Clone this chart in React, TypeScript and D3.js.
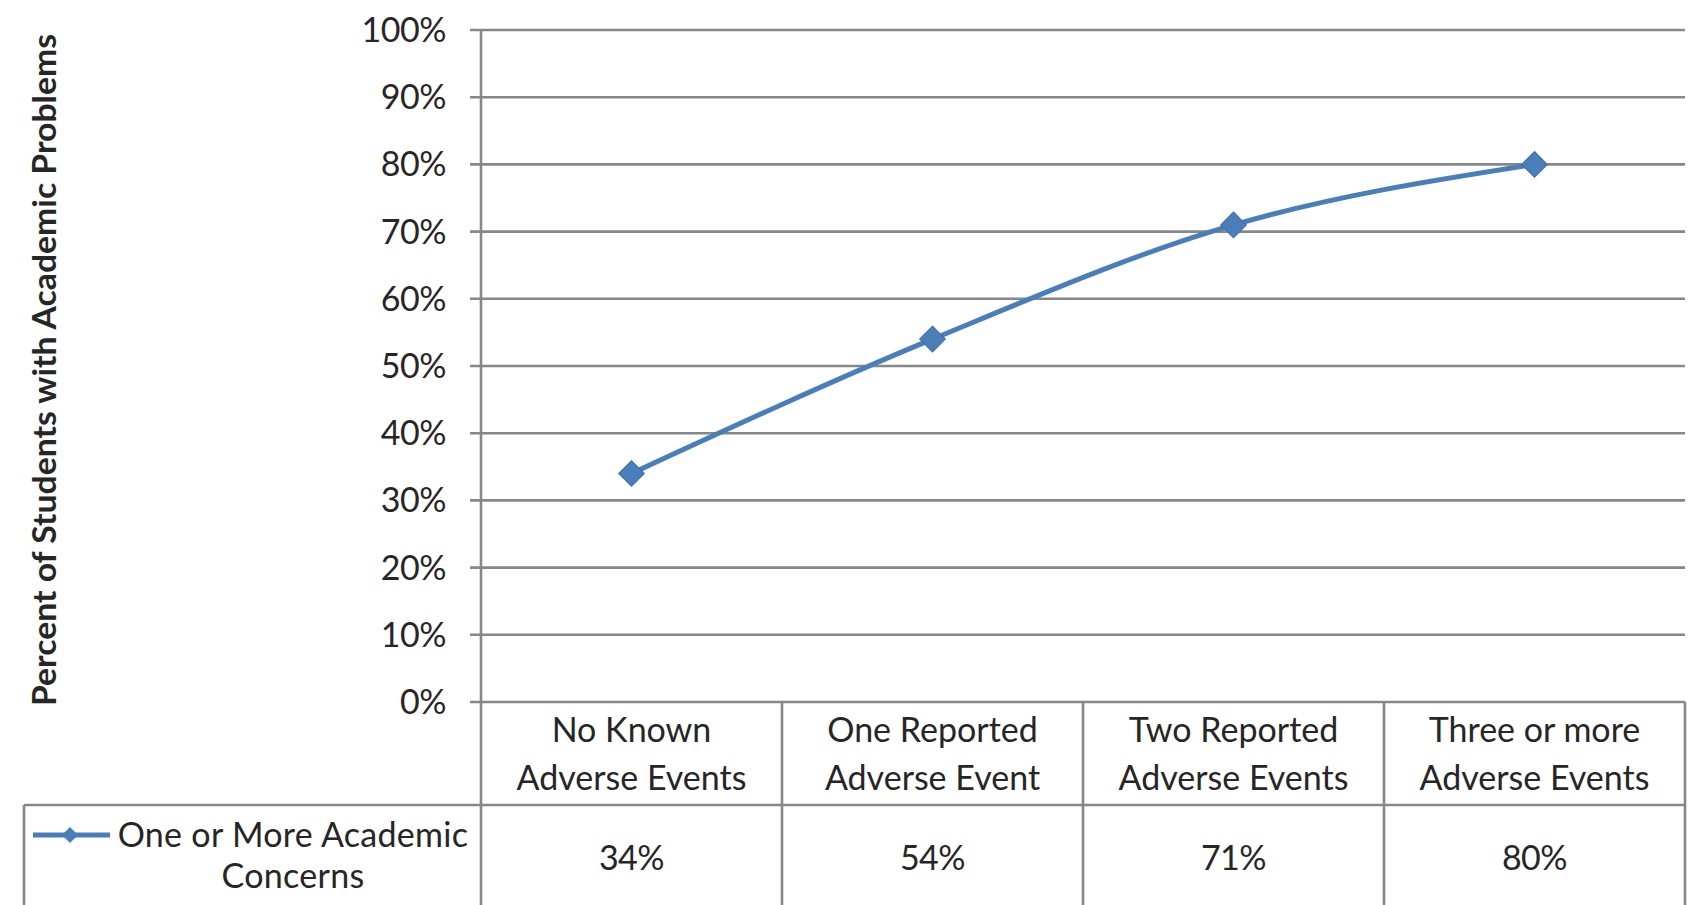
import React, { useEffect, useRef } from 'react';
import * as d3 from 'd3';

// chart data
const categories = ['No Known Adverse Events', 'One Reported Adverse Event', 'Two Reported Adverse Events', 'Three or more Adverse Events'];
const categoryLines = [
  ['No Known', 'Adverse Events'],
  ['One Reported', 'Adverse Event'],
  ['Two Reported', 'Adverse Events'],
  ['Three or more', 'Adverse Events'],
];
const values = [0.34, 0.54, 0.71, 0.80];
const seriesLines = ['One or More Academic', 'Concerns'];
const yTicks = [0, 0.1, 0.2, 0.3, 0.4, 0.5, 0.6, 0.7, 0.8, 0.9, 1.0];
const yTitle = 'Percent of Students with Academic Problems';

function App() {
  const svgRef = useRef<SVGSVGElement>(null);

  useEffect(() => {
    const svg = d3.select(svgRef.current);
    const width = 1692;
    const height = 905;
    const left = 481;
    const right = 1685;
    const top = 30;
    const bottom = 702;
    const rowY = 805;
    const legendLeft = 24;
    const font = 'Lato, "Open Sans", sans-serif';
    const grid = '#878787';
    const blue = '#4A7EBB';
    const textColor = '#262626';
    const fs = 34;

    svg.selectAll('*').remove();
    svg.append('rect').attr('width', width).attr('height', height).attr('fill', '#fff');

    const x = d3.scaleBand().domain(categories).range([left, right]);
    const y = d3.scaleLinear().domain([0, 1]).range([bottom, top]);
    const fmt = d3.format('.0%');

    // gridlines + ticks
    svg.append('g')
      .selectAll('line')
      .data(yTicks)
      .enter()
      .append('line')
      .attr('x1', left - 11)
      .attr('x2', right)
      .attr('y1', d => y(d))
      .attr('y2', d => y(d))
      .attr('stroke', grid)
      .attr('stroke-width', 2.6);

    svg.append('g')
      .selectAll('text')
      .data(yTicks)
      .enter()
      .append('text')
      .attr('x', 446)
      .attr('y', d => y(d))
      .attr('dy', '0.35em')
      .attr('text-anchor', 'end')
      .attr('font-family', font)
      .attr('font-size', fs)
      .attr('letter-spacing', -0.5)
      .attr('fill', textColor)
      .text(d => fmt(d));

    // axis line and table borders
    const tableLines = [
      [left, top, left, height],
      [legendLeft, rowY, right, rowY],
      [legendLeft, rowY, legendLeft, height],
      [right, bottom, right, height],
    ];
    x.domain().slice(1).forEach(c => tableLines.push([x(c)!, bottom, x(c)!, height]));
    svg.append('g')
      .selectAll('line')
      .data(tableLines)
      .enter()
      .append('line')
      .attr('x1', d => d[0])
      .attr('y1', d => d[1])
      .attr('x2', d => d[2])
      .attr('y2', d => d[3])
      .attr('stroke', grid)
      .attr('stroke-width', 2.6);

    // category labels
    const cat = svg.append('g')
      .selectAll('text')
      .data(categories)
      .enter()
      .append('text')
      .attr('x', d => x(d)! + x.bandwidth() / 2)
      .attr('text-anchor', 'middle')
      .attr('font-family', font)
      .attr('font-size', fs)
      .attr('fill', textColor);
    cat.each(function (d, i) {
      const t = d3.select(this);
      categoryLines[i].forEach((line, j) => {
        t.append('tspan')
          .attr('x', x(d)! + x.bandwidth() / 2)
          .attr('y', 742 + j * 48)
          .text(line);
      });
    });

    // data table values
    svg.append('g')
      .selectAll('text')
      .data(values)
      .enter()
      .append('text')
      .attr('x', (d, i) => x(categories[i])! + x.bandwidth() / 2)
      .attr('y', 870)
      .attr('text-anchor', 'middle')
      .attr('font-family', font)
      .attr('font-size', fs)
      .attr('letter-spacing', -0.5)
      .attr('fill', textColor)
      .text(d => fmt(d));

    // line
    const line = d3.line<number>()
      .x((d, i) => x(categories[i])! + x.bandwidth() / 2)
      .y(d => y(d))
      .curve(d3.curveMonotoneX);

    svg.append('path')
      .datum(values)
      .attr('d', line)
      .attr('fill', 'none')
      .attr('stroke', blue)
      .attr('stroke-width', 5)
      .attr('stroke-linejoin', 'round');

    const diamond = d3.symbol().type(d3.symbolSquare).size(330);
    svg.append('g')
      .selectAll('path')
      .data(values)
      .enter()
      .append('path')
      .attr('d', diamond)
      .attr('transform', (d, i) => `translate(${x(categories[i])! + x.bandwidth() / 2},${y(d)}) rotate(45)`)
      .attr('fill', blue)
      .attr('stroke', '#3F6FA8')
      .attr('stroke-width', 1);

    // legend key in the table
    svg.append('line')
      .attr('x1', 33).attr('x2', 110)
      .attr('y1', 835).attr('y2', 835)
      .attr('stroke', blue)
      .attr('stroke-width', 5);
    svg.append('path')
      .attr('d', d3.symbol().type(d3.symbolSquare).size(130))
      .attr('transform', 'translate(70,835) rotate(45)')
      .attr('fill', blue);

    const leg = svg.append('text')
      .attr('text-anchor', 'middle')
      .attr('font-family', font)
      .attr('font-size', fs)
      .attr('letter-spacing', 0.3)
      .attr('fill', textColor);
    seriesLines.forEach((s, j) => {
      leg.append('tspan')
        .attr('x', 293)
        .attr('y', 847 + j * 41)
        .text(s);
    });

    // y axis title
    svg.append('text')
      .attr('transform', 'translate(56,370) rotate(-90)')
      .attr('text-anchor', 'middle')
      .attr('font-family', font)
      .attr('font-size', 33)
      .attr('font-weight', 'bold')
      .attr('textLength', 672)
      .attr('lengthAdjust', 'spacingAndGlyphs')
      .attr('fill', textColor)
      .text(yTitle);
  }, []);

  return (
    <svg
      ref={svgRef}
      width="1692"
      height="905"
      style={{ position: 'absolute', left: 0, top: 0, display: 'block' }}
    ></svg>
  );
}

export default App;
